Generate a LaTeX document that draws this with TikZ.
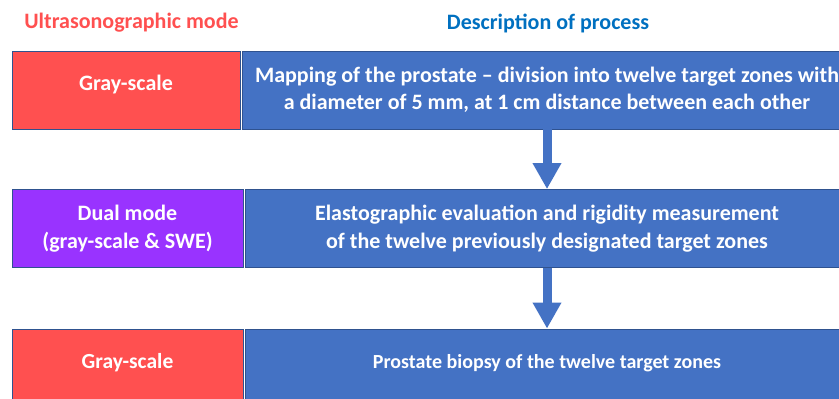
\documentclass[tikz,border=0pt]{standalone}
\usepackage{fontspec}
\setmainfont{Carlito}
\usetikzlibrary{arrows.meta}
\definecolor{modered}{HTML}{FF5050}
\definecolor{modepurple}{HTML}{9933FF}
\definecolor{procblue}{HTML}{4472C4}
\definecolor{edgeblue}{HTML}{2F528F}
\definecolor{headblue}{HTML}{0070C0}
\begin{document}
\begin{tikzpicture}[line join=miter,x=1pt,y=-1pt,
    box/.style={rectangle, draw=edgeblue, line width=0.8pt, text=white, align=center,
      font=\bfseries\fontsize{22}{28}\selectfont, minimum height=78, inner sep=0pt},
    mode/.style={box, minimum width=228},
    proc/.style={box, fill=procblue, minimum width=610},
    single/.style={text height=1ex, text depth=1ex},
    hd/.style={font=\bfseries\fontsize{22}{26}\selectfont},
    flow/.style={-{Triangle[width=27pt,length=26pt]}, line width=9pt, draw=procblue}]
    \useasboundingbox (0,0) rectangle (839,399);
    \clip (0,0) rectangle (839,399);

    % column heads
    \node[hd, text=modered] (hmode) at (131.5,23) {Ultrasonographic mode};
    \node[hd, text=headblue] (hproc) at (548,23) {Description of process};

    % step 1
    \node[mode, single, fill=modered] (m1) at (126,90) {Gray-scale};
    \node[proc] (p1) at (547,90) {Mapping of the prostate -- division into twelve target zones with\\[-1pt]
      a diameter of 5 mm, at 1 cm distance between each other};

    % step 2
    \node[mode, fill=modepurple, minimum width=231] (m2) at (127.5,228.5) {Dual mode\\(gray-scale \& SWE)};
    \node[proc, minimum width=604] (p2) at (547,228.5) {Elastographic evaluation and rigidity measurement\\
      of the twelve previously designated target zones};

    % step 3
    \node[mode, single, fill=modered, minimum width=231, font=\bfseries\fontsize{21.5}{26}\selectfont] (m3) at (127.5,368) {Gray-scale};
    \node[proc, single, minimum width=604, font=\bfseries\fontsize{20}{24}\selectfont] (p3) at (547,368) {Prostate biopsy of the twelve target zones};

    \draw[flow] (p1.south) -- (p2.north);
    \draw[flow] (p2.south) -- (p3.north);
\end{tikzpicture}
\end{document}
